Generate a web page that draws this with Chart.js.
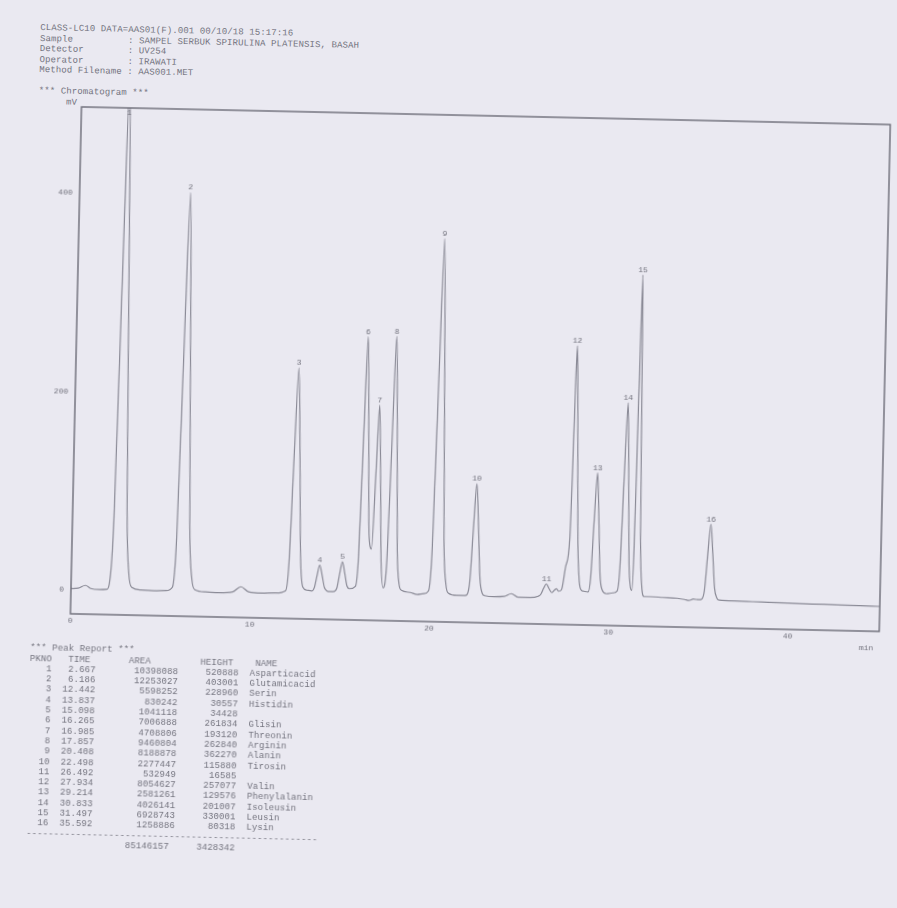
<!DOCTYPE html>
<html>
<head>
<meta charset="utf-8">
<script src="https://cdn.jsdelivr.net/npm/chart.js@4.4.1/dist/chart.umd.min.js"></script>
<style>
  html, body { margin: 0; padding: 0; background: #eae9f1; overflow: hidden; }
  #page {
    position: absolute; left: 0; top: 0; width: 897px; height: 908px;
    transform: rotate(1.25deg); transform-origin: 448px 454px;
  }
  pre {
    position: absolute; margin: 0;
    font-family: "Liberation Mono", "DejaVu Sans Mono", monospace;
    font-size: 9px; letter-spacing: 0.1px; color: #74747f;
  }
  #hdr { left: 31px; top: 32.4px; line-height: 10.5px; }
  #report { left: 34.5px; top: 652.3px; line-height: 10.3px; }
  #chart { position: absolute; left: 0; top: 90px; }
  #unit {
    position: absolute; left: 863px; top: 634px;
    font-family: "Liberation Mono", monospace; font-size: 8px; color: #74747f;
  }
</style>
</head>
<body>
<div id="page">
  <pre id="hdr"></pre>
  <canvas id="chart" width="897" height="570"></canvas>
  <div id="unit">min</div>
  <pre id="report"></pre>
</div>
<script>
// Run header
const headerLines = [
  "CLASS-LC10 DATA=AAS01(F).001 00/10/18 15:17:16",
  "Sample          : SAMPEL SERBUK SPIRULINA PLATENSIS, BASAH",
  "Detector        : UV254",
  "Operator        : IRAWATI",
  "Method Filename : AAS001.MET",
  "",
  "*** Chromatogram ***",
  "     mV"
];

// Peak report
const peakNo     = [1, 2, 3, 4, 5, 6, 7, 8, 9, 10, 11, 12, 13, 14, 15, 16];
const peakTime   = [2.667, 6.186, 12.442, 13.837, 15.098, 16.265, 16.985, 17.857,
                    20.408, 22.498, 26.492, 27.934, 29.214, 30.833, 31.497, 35.592];
const peakArea   = [10398088, 12253027, 5598252, 830242, 1041118, 7006888, 4708806, 9460804,
                    8188878, 2277447, 532949, 8054627, 2581261, 4026141, 6928743, 1258886];
const peakHeight = [520888, 403001, 228960, 30557, 34428, 261834, 193120, 262840,
                    362270, 115880, 16585, 257077, 129576, 201007, 330001, 80318];
const peakName   = ["Asparticacid", "Glutamicacid", "Serin", "Histidin", "", "Glisin", "Threonin", "Arginin",
                    "Alanin", "Tirosin", "", "Valin", "Phenylalanin", "Isoleusin", "Leusin", "Lysin"];

// Detector trace between the apexes (time in min, signal in mV)
const traceTime = [
  0.00, 0.40, 0.80, 1.10, 1.60, 2.00,
  2.13, 2.31, 2.49, 2.85, 3.03, 3.21, 3.39, 3.90, 4.60, 5.30,
  5.65, 5.83, 6.01, 6.37, 6.55, 6.73, 6.91, 7.50, 8.30, 9.00, 9.47, 9.90, 10.60, 11.40,
  11.96, 12.12, 12.28, 12.60, 12.76, 12.92, 13.15,
  13.42, 13.56, 13.70, 13.98, 14.12, 14.26, 14.45,
  14.68, 14.82, 14.96, 15.24, 15.38, 15.52,
  15.85, 15.99, 16.13, 16.41, 16.55, 16.70,
  16.86, 17.12, 17.25, 17.40,
  17.58, 17.72, 18.00, 18.14, 18.28, 18.42, 18.90, 19.30, 19.65,
  19.93, 20.09, 20.25, 20.57, 20.73, 20.89, 21.05, 21.50, 21.95,
  22.08, 22.22, 22.36, 22.64, 22.78, 22.92, 23.06, 23.60, 24.15, 24.55, 24.95, 25.60, 26.05,
  26.19, 26.34, 26.64, 26.80, 26.95, 27.06, 27.18, 27.34,
  27.55, 27.74, 27.82, 27.88, 28.00, 28.09, 28.20, 28.32, 28.45, 28.58,
  28.82, 28.95, 29.08, 29.34, 29.47, 29.60, 29.85, 30.20,
  30.44, 30.57, 30.70, 30.95, 31.07, 31.18, 31.26,
  31.34, 31.42, 31.58, 31.68, 31.80, 31.95, 32.30, 33.00, 33.80, 34.20, 34.45, 34.70, 35.00,
  35.17, 35.31, 35.45, 35.73, 35.87, 36.01, 36.15, 37.00, 38.50, 40.00, 42.00, 44.00, 45.10
];
const traceMv = [
  1.5, 2, 5, 2, 1, 1.5,
  7, 72, 317, 324, 85, 17, 4, 1.5, 1, 1.5,
  5, 55, 245, 250, 65, 13, 3, 1, 0.5, 1.5, 7, 2, 1, 1.5,
  4, 32, 140, 143, 38, 8, 5,
  4.3, 7.6, 20, 20.5, 8.3, 4.8, 4,
  4.3, 8, 22.5, 23, 10, 7.5,
  10, 41, 162, 165, 62, 48,
  125, 122, 36, 9,
  41, 161, 165, 47, 13, 7, 5, 3, 4,
  7, 52, 221, 226, 60, 14, 5, 3, 3,
  4, 18, 71, 73, 21, 6, 3.5, 2.5, 3, 6, 2.5, 2.5, 4,
  6, 12, 12, 8, 10.5, 12, 9.5, 11,
  35, 62, 140, 220, 222, 145, 58, 20, 11, 10,
  9.3, 24, 82, 83, 27, 12, 8, 9,
  11, 35, 126, 128, 40, 15, 12,
  60, 220, 215, 70, 18, 6, 6, 5.5, 5, 4, 3, 4.5, 4,
  4.8, 14, 50, 51, 16, 6, 4, 3.5, 3, 2.5, 2, 1.5, 1.2
];

// Axis tick labels
const xTicks = [0, 10, 20, 30, 40];
const yTicks = [0, 200, 400];

const INK = '#74747f';
const MONO = '"Liberation Mono", "DejaVu Sans Mono", monospace';

document.getElementById('hdr').textContent = headerLines.join('\n');

// Peak report table
(function () {
  const rows = ['*** Peak Report ***',
                'PKNO   TIME       AREA         HEIGHT    NAME'];
  peakNo.forEach((n, i) => {
    rows.push(String(n).padStart(4) +
              peakTime[i].toFixed(3).padStart(8) +
              String(peakArea[i]).padStart(15) +
              String(peakHeight[i]).padStart(11) +
              '  ' + peakName[i]);
  });
  rows.push('-'.repeat(53));
  const areaSum = peakArea.reduce((a, b) => a + b, 0);
  const heightSum = peakHeight.reduce((a, b) => a + b, 0);
  rows.push(String(areaSum).padStart(26) + String(heightSum).padStart(12));
  document.getElementById('report').textContent = rows.join('\n');
})();

// Trace points: flanks/baseline plus each reported apex
const tracePoints = traceTime.map((t, i) => ({ x: t, y: traceMv[i] }))
  .concat(peakTime.map((t, i) => ({ x: t, y: peakHeight[i] / 1000 })))
  .sort((a, b) => a.x - b.x);

// Box around the plot area
const framePlugin = {
  id: 'frame',
  afterDatasetsDraw(chart) {
    const { ctx, chartArea: a } = chart;
    ctx.save();
    ctx.strokeStyle = '#6c6c77';
    ctx.lineWidth = 1.4;
    ctx.strokeRect(a.left, a.top, a.right - a.left, a.bottom - a.top);
    ctx.restore();
  }
};

// Peak numbers printed above each apex
const peakLabelPlugin = {
  id: 'peakLabels',
  afterDatasetsDraw(chart) {
    const { ctx, chartArea: a, scales: { x, y } } = chart;
    ctx.save();
    ctx.fillStyle = INK;
    ctx.font = '8px ' + MONO;
    ctx.textAlign = 'center';
    ctx.textBaseline = 'bottom';
    peakNo.forEach((n, i) => {
      const px = x.getPixelForValue(peakTime[i]);
      let py = y.getPixelForValue(peakHeight[i] / 1000) - 1;
      py = Math.max(py, a.top + 9);
      ctx.fillText(String(n), px, py);
    });
    ctx.restore();
  }
};

new Chart(document.getElementById('chart'), {
  type: 'line',
  data: {
    datasets: [{
      data: tracePoints,
      borderColor: '#8a8a96',
      borderWidth: 1.2,
      pointRadius: 0,
      fill: false,
      cubicInterpolationMode: 'monotone'
    }]
  },
  options: {
    responsive: false,
    animation: false,
    devicePixelRatio: 1,
    layout: { padding: { left: 0, right: 14, top: 25, bottom: 0 } },
    plugins: { legend: { display: false }, tooltip: { enabled: false } },
    scales: {
      x: {
        type: 'linear', min: 0, max: 45.1,
        grid: { display: false, drawTicks: false },
        border: { display: false },
        afterBuildTicks: s => { s.ticks = xTicks.map(v => ({ value: v })); },
        afterFit: s => { s.height = 38; },
        ticks: { font: { family: MONO, size: 8 }, color: INK, padding: 2.5, maxRotation: 0, autoSkip: false }
      },
      y: {
        type: 'linear', min: -24, max: 487,
        grid: { display: false, drawTicks: false },
        border: { display: false },
        afterBuildTicks: s => { s.ticks = yTicks.map(v => ({ value: v })); },
        afterFit: s => { s.width = 74; },
        ticks: { font: { family: MONO, size: 8 }, color: INK, padding: 7 }
      }
    }
  },
  plugins: [framePlugin, peakLabelPlugin]
});
</script>
</body>
</html>
